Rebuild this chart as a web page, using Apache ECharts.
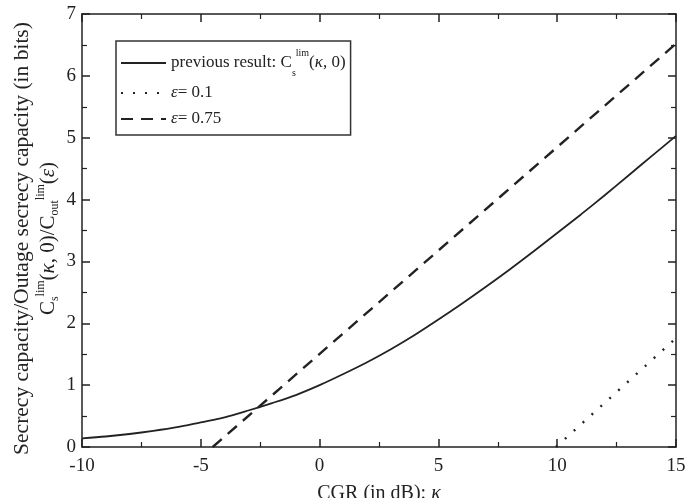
<!DOCTYPE html>
<html>
<head>
<meta charset="utf-8">
<script src="https://cdn.jsdelivr.net/npm/echarts@6/dist/echarts.min.js"></script>
<style>
  html, body { margin: 0; padding: 0; background: #fff; }
  #main { width: 689px; height: 498px; }
</style>
</head>
<body>
<div id="main"></div>
<script>
// CGR in dB (x) and secrecy capacity values
var kappa = [-10, -9, -8, -7, -6, -5, -4, -3, -2, -1, 0, 1, 2, 3, 4, 5, 6, 7, 8, 9, 10, 11, 12, 13, 14, 15];
var prevResult = [0.14, 0.17, 0.21, 0.26, 0.32, 0.40, 0.48, 0.59, 0.71, 0.84, 1.00, 1.18, 1.37, 1.58, 1.81, 2.06, 2.32, 2.59, 2.87, 3.16, 3.46, 3.76, 4.07, 4.39, 4.71, 5.03];

var eps01X = [9.95, 15];
var eps01Y = [0, 1.76];
var eps075X = [-4.5, 15];
var eps075Y = [0, 6.52];

function pairs(xs, ys) {
  var out = [];
  for (var i = 0; i < xs.length; i++) out.push([xs[i], ys[i]]);
  return out;
}

var font = 'Liberation Serif';
var ink = '#222';

var chart = echarts.init(document.getElementById('main'), null, { renderer: 'canvas' });

// legend rich text
var rich = {
  t: { fontFamily: font, fontSize: 17, color: ink },
  t1: { fontFamily: font, fontSize: 17, color: ink, lineHeight: 30 },
  e: { fontFamily: font, fontSize: 17, color: ink, fontStyle: 'italic' },
  sub: { fontFamily: font, fontSize: 10, color: ink, verticalAlign: 'bottom', lineHeight: 30 },
  sup: { fontFamily: font, fontSize: 10, color: ink, verticalAlign: 'top', lineHeight: 30 }
};

// y axis title rich text
var yRich = {
  a: { fontFamily: font, fontSize: 21.5, color: ink, lineHeight: 26 },
  b: { fontFamily: font, fontSize: 21, color: ink, lineHeight: 26 },
  bi: { fontFamily: font, fontSize: 21, color: ink, fontStyle: 'italic', lineHeight: 26 },
  sub: { fontFamily: font, fontSize: 12, color: ink, verticalAlign: 'bottom', lineHeight: 26 },
  sup: { fontFamily: font, fontSize: 12, color: ink, verticalAlign: 'top', lineHeight: 26 }
};

function axisCommon(show, margin) {
  return {
    axisLine: { show: true, onZero: false, lineStyle: { color: ink, width: 1.5 } },
    axisTick: { show: true, inside: true, length: 8, lineStyle: { color: ink, width: 1.5 } },
    minorTick: { show: true, splitNumber: 2, length: 5, lineStyle: { color: ink, width: 1.2 } },
    splitLine: { show: false },
    axisLabel: { show: show, color: ink, fontFamily: font, fontSize: 19, margin: margin }
  };
}

var option = {
  animation: false,
  backgroundColor: '#fff',
  grid: { left: 82, right: 13, top: 14, bottom: 51, outerBoundsMode: 'none', containLabel: false },
  xAxis: [
    Object.assign({
      type: 'value', min: -10, max: 15, interval: 5, position: 'bottom',
      name: 'CGR (in dB): {e|κ}', nameLocation: 'middle', nameGap: 37, nameMoveOverlap: false,
      nameTextStyle: { fontFamily: font, fontSize: 20, color: ink, rich: { e: { fontFamily: font, fontSize: 20, color: ink, fontStyle: 'italic' } } }
    }, axisCommon(true, 10)),
    Object.assign({ type: 'value', min: -10, max: 15, interval: 5, position: 'top' }, axisCommon(false, 8))
  ],
  yAxis: [
    Object.assign({
      type: 'value', min: 0, max: 7, interval: 1, position: 'left',
      name: '{a|Secrecy capacity/Outage secrecy capacity (in bits)}\n{b|C}{sub|s}{sup|lim}{b|(}{bi|κ}{b|, 0)/C}{sub|out}{sup|lim}{b|(}{bi|ε}{b|)}',
      nameLocation: 'middle', nameGap: 21, nameRotate: 90, nameMoveOverlap: false,
      nameTextStyle: { fontFamily: font, fontSize: 21, color: ink, rich: yRich, padding: [0, 16, 0, 0] }
    }, axisCommon(true, 6)),
    Object.assign({ type: 'value', min: 0, max: 7, interval: 1, position: 'right' }, axisCommon(false, 8))
  ],
  legend: {
    orient: 'vertical',
    left: 116, top: 41,
    padding: [7, 5, 5, 4],
    itemWidth: 45, itemHeight: 14, itemGap: 4,
    borderColor: '#333', borderWidth: 1.5,
    itemStyle: { opacity: 0 },
    data: ['previous result', 'ε = 0.1', 'ε = 0.75'],
    formatter: function (name) {
      if (name === 'previous result') return '{t1|previous result: C}{sub|s}{sup|lim}{t1|(}{e|κ}{t1|, 0)}';
      if (name === 'ε = 0.1') return '{e|ε}{t|= 0.1}';
      return '{e|ε}{t|= 0.75}';
    },
    textStyle: { fontFamily: font, fontSize: 17, color: ink, lineHeight: 22, rich: rich }
  },
  series: [
    {
      name: 'previous result', type: 'line', smooth: 0.3, symbol: 'none',
      data: pairs(kappa, prevResult),
      lineStyle: { color: ink, width: 1.8, type: 'solid' },
      itemStyle: { color: ink }
    },
    {
      name: 'ε = 0.1', type: 'line', symbol: 'none',
      data: pairs(eps01X, eps01Y),
      lineStyle: { color: ink, width: 2.4, type: [2, 10] },
      itemStyle: { color: ink }
    },
    {
      name: 'ε = 0.75', type: 'line', symbol: 'none',
      data: pairs(eps075X, eps075Y),
      lineStyle: { color: ink, width: 2.4, type: [12, 8] },
      itemStyle: { color: ink }
    }
  ]
};

chart.setOption(option);
</script>
</body>
</html>
